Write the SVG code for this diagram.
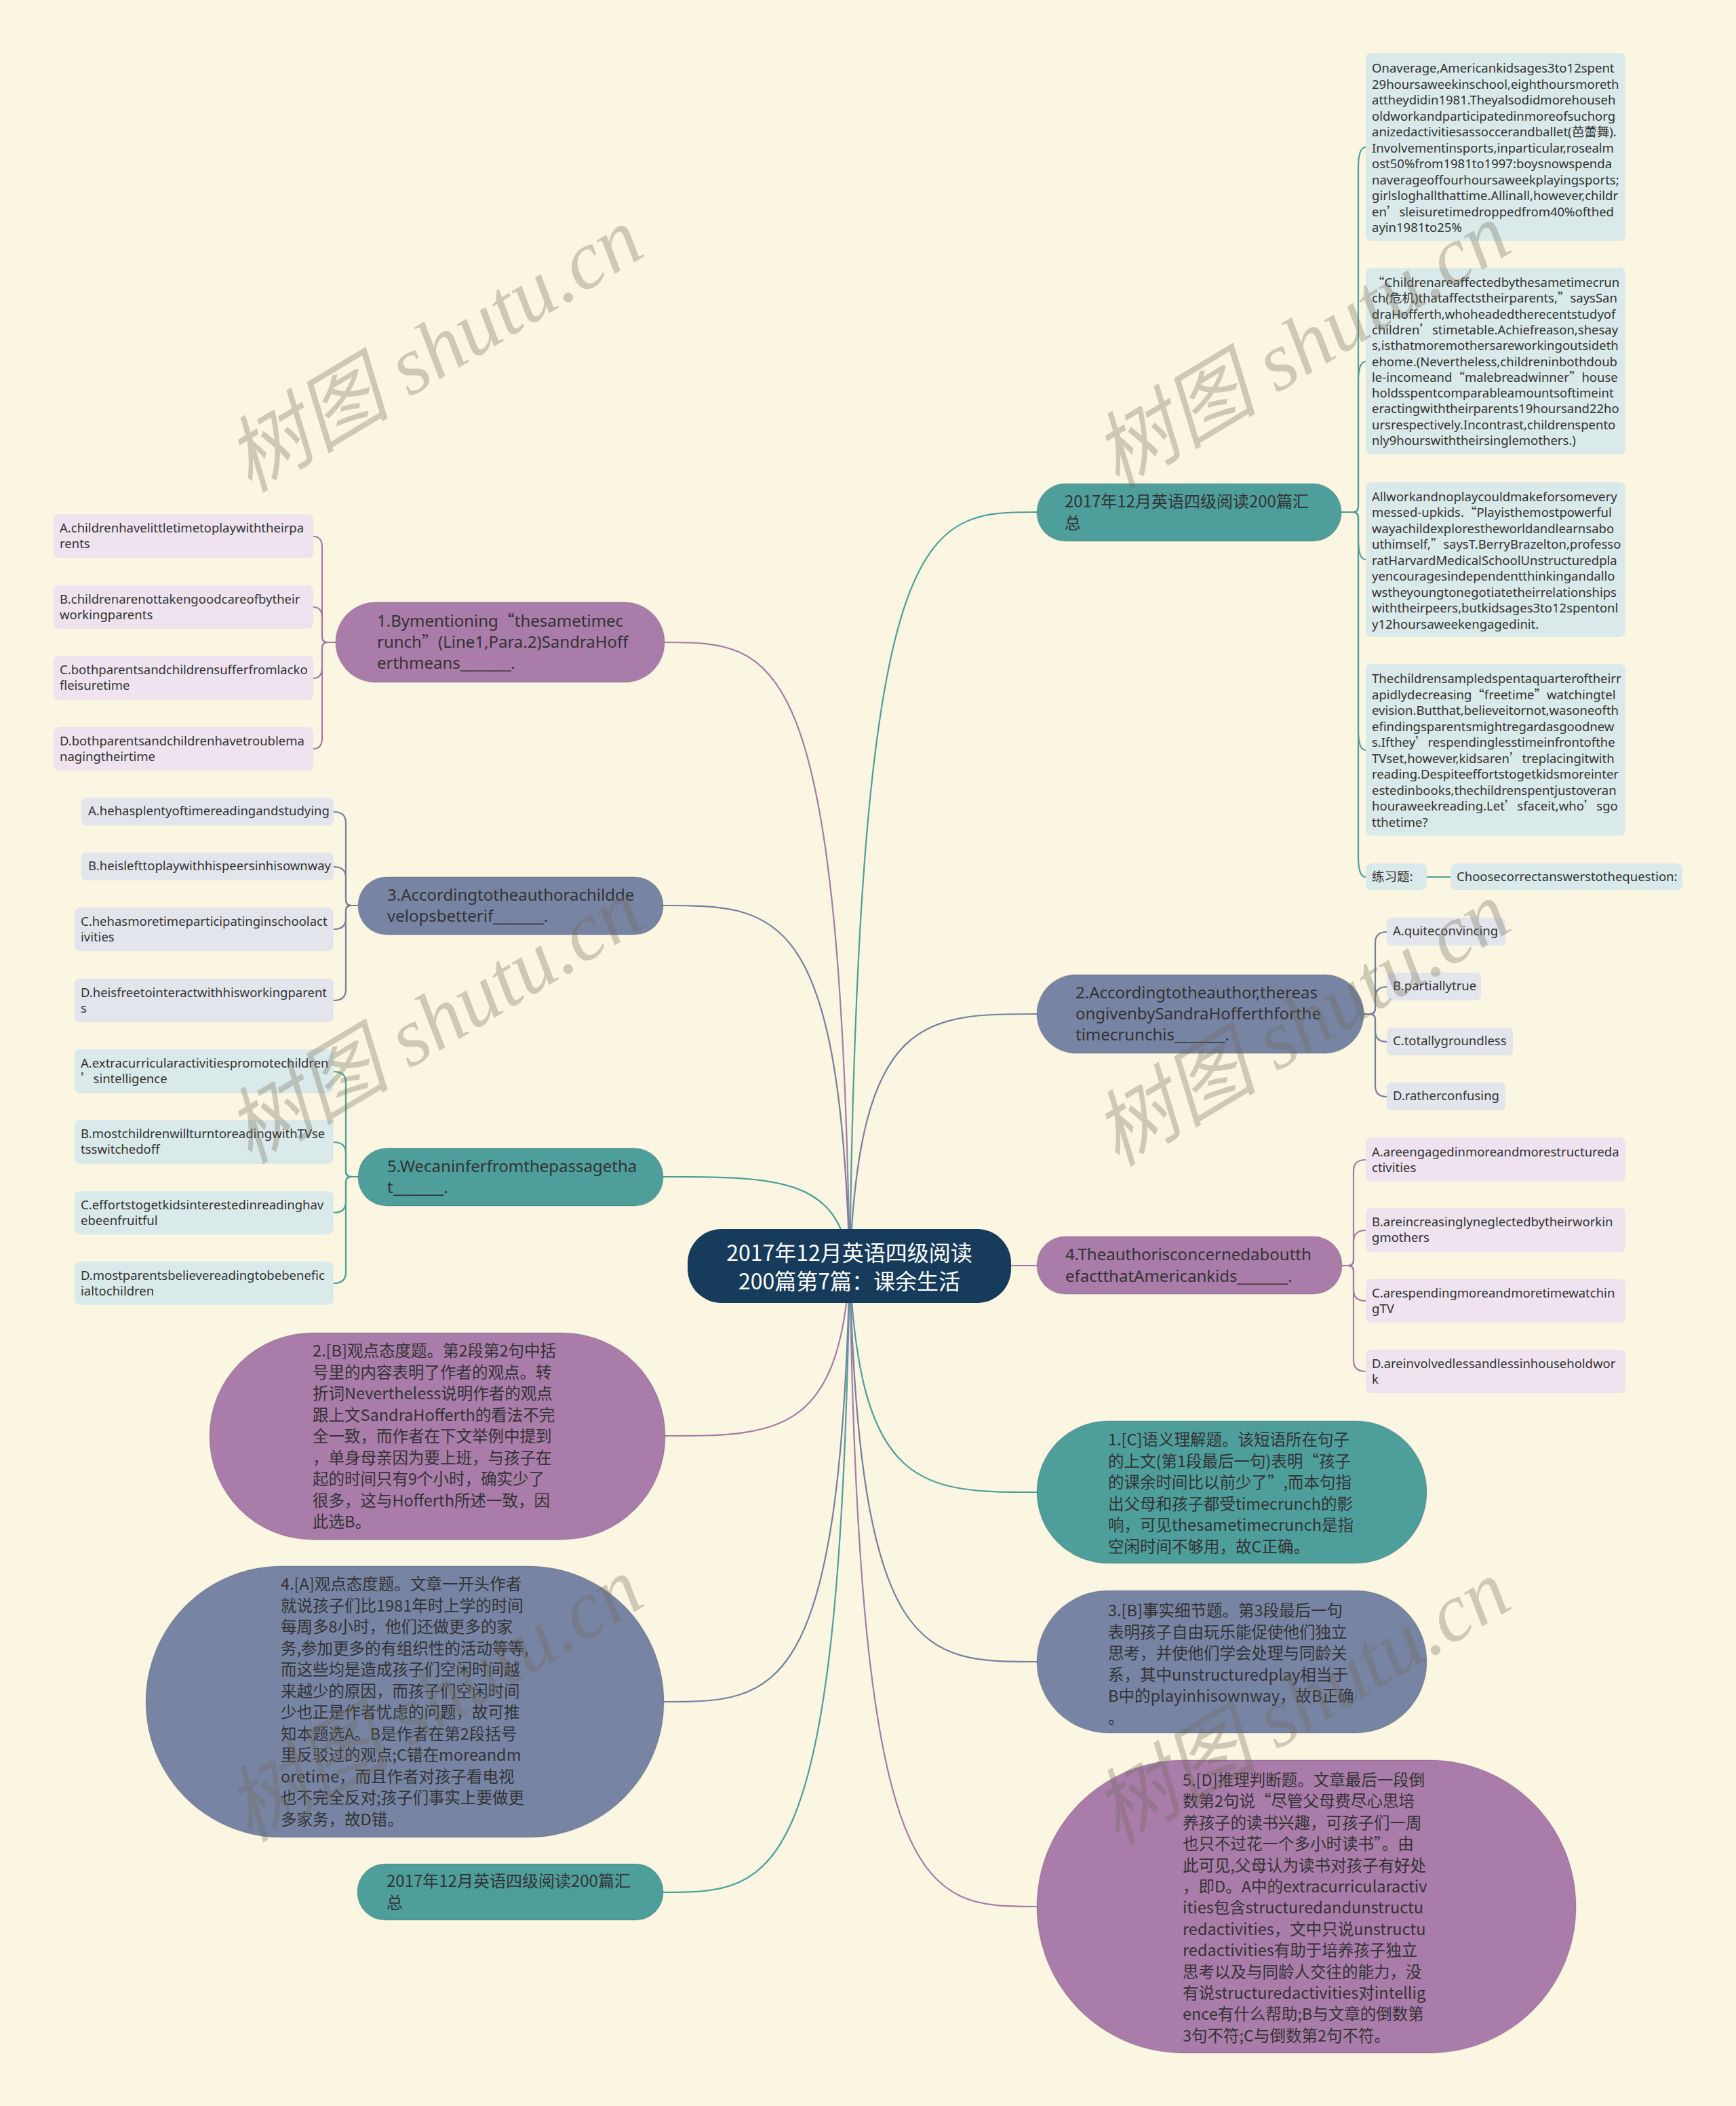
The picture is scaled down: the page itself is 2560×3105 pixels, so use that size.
<svg xmlns="http://www.w3.org/2000/svg" width="2560" height="3105" viewBox="0 0 2560 3105">
<style>
.lk{fill:none;stroke-width:2.2}
.teal{stroke:#4E9E9B}
.pur{stroke:#A57BA8}
.sla{stroke:#7480A0}
.nT{fill:#4E9E9B;stroke:#000;stroke-opacity:.12;stroke-width:1.5}
.nP{fill:#A97CAA;stroke:#000;stroke-opacity:.12;stroke-width:1.5}
.nS{fill:#7884A4;stroke:#000;stroke-opacity:.12;stroke-width:1.5}
.bT{fill:#DAE9E9}
.bP{fill:#EEE3EF}
.bS{fill:#E2E5EC}
.s{font-family:'Noto Sans','Noto Sans CJK SC',sans-serif;font-size:18.5px;fill:#333}
.m{font-family:'Noto Sans','Noto Sans CJK SC',sans-serif;font-size:24px;fill:#333}
.c{font-family:'Noto Sans CJK SC',sans-serif;font-size:23.5px;fill:#333}
.c24{font-family:'Noto Sans CJK SC',sans-serif;font-size:24px;fill:#333}
.q{font-family:'Noto Sans CJK SC',sans-serif}
.ct{font-family:'Noto Sans CJK SC',sans-serif;font-size:32px;fill:#fff;text-anchor:middle}
.wm{font-family:'Liberation Serif','Noto Sans CJK SC',serif;font-style:italic;font-size:122px;fill:#6f6a55;fill-opacity:.32;text-anchor:middle}
</style>
<rect width="2560" height="3105" fill="#FBF6E2"/>

<g id="connectors">
<path class="lk teal" d="M1253,1866 C1267,755 1363,755 1529,755"/>
<path class="lk sla" d="M1253,1866 C1267,1495 1363,1495 1529,1495"/>
<path class="lk pur" d="M1253,1866 L1529,1866"/>
<path class="lk teal" d="M1253,1866 C1267,2200 1363,2200 1529,2200"/>
<path class="lk sla" d="M1253,1866 C1267,2450 1363,2450 1529,2450"/>
<path class="lk pur" d="M1253,1866 C1267,2811 1363,2811 1529,2811"/>
<path class="lk pur" d="M1253,1866 C1239,947 1144,947 980,947"/>
<path class="lk sla" d="M1253,1866 C1239,1335 1144,1335 978,1335"/>
<path class="lk teal" d="M1253,1866 C1239,1735 1144,1735 978,1735"/>
<path class="lk pur" d="M1253,1866 C1239,2117 1144,2117 980,2117"/>
<path class="lk sla" d="M1253,1866 C1239,2509 1144,2509 979,2509"/>
<path class="lk teal" d="M1253,1866 C1239,2790 1144,2790 978,2790"/>

<path class="lk teal" d="M1978,755 L1995,755 Q2003,755 2003,747 L2003,247 Q2003,217 2014,217"/>
<path class="lk teal" d="M1978,755 L1995,755 Q2003,755 2003,747 L2003,563 Q2003,533 2014,533"/>
<path class="lk teal" d="M1978,755 L1995,755 Q2003,755 2003,763 L2003,795 Q2003,825 2014,825"/>
<path class="lk teal" d="M1978,755 L1995,755 Q2003,755 2003,763 L2003,1076 Q2003,1106 2014,1106"/>
<path class="lk teal" d="M1978,755 L1995,755 Q2003,755 2003,763 L2003,1263 Q2003,1293 2014,1293"/>
<path class="lk teal" d="M2104,1293 L2139,1293"/>

<path class="lk sla" d="M2011,1495 L2020,1495 Q2028,1495 2028,1487 L2028,1390 Q2028,1374 2045,1374"/>
<path class="lk sla" d="M2011,1495 L2020,1495 Q2028,1495 2028,1487 L2028,1471 Q2028,1455 2045,1455"/>
<path class="lk sla" d="M2011,1495 L2020,1495 Q2028,1495 2028,1503 L2028,1520 Q2028,1536 2045,1536"/>
<path class="lk sla" d="M2011,1495 L2020,1495 Q2028,1495 2028,1503 L2028,1601 Q2028,1617 2045,1617"/>

<path class="lk pur" d="M1979,1866 L1988,1866 Q1996,1866 1996,1858 L1996,1726 Q1996,1710 2014,1710"/>
<path class="lk pur" d="M1979,1866 L1988,1866 Q1996,1866 1996,1858 L1996,1830 Q1996,1814 2014,1814"/>
<path class="lk pur" d="M1979,1866 L1988,1866 Q1996,1866 1996,1874 L1996,1902 Q1996,1918 2014,1918"/>
<path class="lk pur" d="M1979,1866 L1988,1866 Q1996,1866 1996,1874 L1996,2006 Q1996,2022 2014,2022"/>

<path class="lk pur" d="M495,947 L483,947 Q475,947 475,939 L475,807 Q475,791 462,791"/>
<path class="lk pur" d="M495,947 L483,947 Q475,947 475,939 L475,911 Q475,895 462,895"/>
<path class="lk pur" d="M495,947 L483,947 Q475,947 475,955 L475,984 Q475,1000 462,1000"/>
<path class="lk pur" d="M495,947 L483,947 Q475,947 475,955 L475,1088 Q475,1104 462,1104"/>

<path class="lk sla" d="M528,1335 L518,1335 Q510,1335 510,1327 L510,1213 Q510,1197 492,1197"/>
<path class="lk sla" d="M528,1335 L518,1335 Q510,1335 510,1327 L510,1294 Q510,1278 492,1278"/>
<path class="lk sla" d="M528,1335 L518,1335 Q510,1335 510,1343 L510,1354 Q510,1370 492,1370"/>
<path class="lk sla" d="M528,1335 L518,1335 Q510,1335 510,1343 L510,1459 Q510,1475 492,1475"/>

<path class="lk teal" d="M528,1735 L518,1735 Q510,1735 510,1727 L510,1596 Q510,1580 492,1580"/>
<path class="lk teal" d="M528,1735 L518,1735 Q510,1735 510,1727 L510,1700 Q510,1684 492,1684"/>
<path class="lk teal" d="M528,1735 L518,1735 Q510,1735 510,1743 L510,1772 Q510,1788 492,1788"/>
<path class="lk teal" d="M528,1735 L518,1735 Q510,1735 510,1743 L510,1876 Q510,1892 492,1892"/>
</g>

<g id="center">
<rect x="1014" y="1812" width="477" height="109" rx="50" fill="#173B5A"/>
<text class="ct"><tspan x="1252.5" y="1859">2017年12月英语四级阅读</tspan><tspan x="1252.5" y="1901">200篇第7篇：课余生活</tspan></text>
</g>

<g id="summary-top">
<rect class="nT" x="1529" y="713" width="449" height="85" rx="42"/>
<text class="c24"><tspan x="1570" y="748">2017年12月英语四级阅读200篇汇</tspan><tspan x="1570" y="780">总</tspan></text>
</g>

<g id="para1">
<rect class="bT" x="2014" y="78" width="383" height="277" rx="8"/>
<text class="s">
<tspan x="2023" y="107">Onaverage,Americankidsages3to12spent</tspan>
<tspan x="2023" y="130.5">29hoursaweekinschool,eighthoursmoreth</tspan>
<tspan x="2023" y="154">attheydidin1981.Theyalsodidmorehouseh</tspan>
<tspan x="2023" y="177.5">oldworkandparticipatedinmoreofsuchorg</tspan>
<tspan x="2023" y="201">anizedactivitiesassoccerandballet(芭蕾舞).</tspan>
<tspan x="2023" y="224.5">Involvementinsports,inparticular,rosealm</tspan>
<tspan x="2023" y="248">ost50%from1981to1997:boysnowspenda</tspan>
<tspan x="2023" y="271.5">naverageoffourhoursaweekplayingsports;</tspan>
<tspan x="2023" y="295">girlsloghallthattime.Allinall,however,childr</tspan>
<tspan x="2023" y="318.5">en<tspan class="q">’</tspan>sleisuretimedroppedfrom40%ofthed</tspan>
<tspan x="2023" y="342">ayin1981to25%</tspan>
</text>
</g>

<g id="para2">
<rect class="bT" x="2014" y="395" width="383" height="275" rx="8"/>
<text class="s">
<tspan x="2023" y="423"><tspan class="q">“</tspan>Childrenareaffectedbythesametimecrun</tspan>
<tspan x="2023" y="446.3">ch(危机)thataffectstheirparents,<tspan class="q">”</tspan>saysSan</tspan>
<tspan x="2023" y="469.6">draHofferth,whoheadedtherecentstudyof</tspan>
<tspan x="2023" y="492.9">children<tspan class="q">’</tspan>stimetable.Achiefreason,shesay</tspan>
<tspan x="2023" y="516.2">s,isthatmoremothersareworkingoutsideth</tspan>
<tspan x="2023" y="539.5">ehome.(Nevertheless,childreninbothdoub</tspan>
<tspan x="2023" y="562.8">le-incomeand<tspan class="q">“</tspan>malebreadwinner<tspan class="q">”</tspan>house</tspan>
<tspan x="2023" y="586.1">holdsspentcomparableamountsoftimeint</tspan>
<tspan x="2023" y="609.4">eractingwiththeirparents19hoursand22ho</tspan>
<tspan x="2023" y="632.7">ursrespectively.Incontrast,childrenspento</tspan>
<tspan x="2023" y="656">nly9hourswiththeirsinglemothers.)</tspan>
</text>
</g>

<g id="para3">
<rect class="bT" x="2014" y="711" width="383" height="228" rx="8"/>
<text class="s">
<tspan x="2023" y="738.5">Allworkandnoplaycouldmakeforsomevery</tspan>
<tspan x="2023" y="762">messed-upkids.<tspan class="q">“</tspan>Playisthemostpowerful</tspan>
<tspan x="2023" y="785.5">wayachildexplorestheworldandlearnsabo</tspan>
<tspan x="2023" y="809">uthimself,<tspan class="q">”</tspan>saysT.BerryBrazelton,professo</tspan>
<tspan x="2023" y="832.5">ratHarvardMedicalSchoolUnstructuredpla</tspan>
<tspan x="2023" y="856">yencouragesindependentthinkingandallo</tspan>
<tspan x="2023" y="879.5">wstheyoungtonegotiatetheirrelationships</tspan>
<tspan x="2023" y="903">withtheirpeers,butkidsages3to12spentonl</tspan>
<tspan x="2023" y="926.5">y12hoursaweekengagedinit.</tspan>
</text>
</g>

<g id="para4">
<rect class="bT" x="2014" y="979" width="383" height="253" rx="8"/>
<text class="s">
<tspan x="2023" y="1007">Thechildrensampledspentaquarteroftheirr</tspan>
<tspan x="2023" y="1030.5">apidlydecreasing<tspan class="q">“</tspan>freetime<tspan class="q">”</tspan>watchingtel</tspan>
<tspan x="2023" y="1054">evision.Butthat,believeitornot,wasoneofth</tspan>
<tspan x="2023" y="1077.5">efindingsparentsmightregardasgoodnew</tspan>
<tspan x="2023" y="1101">s.Ifthey<tspan class="q">’</tspan>respendinglesstimeinfrontofthe</tspan>
<tspan x="2023" y="1124.5">TVset,however,kidsaren<tspan class="q">’</tspan>treplacingitwith</tspan>
<tspan x="2023" y="1148">reading.Despiteeffortstogetkidsmoreinter</tspan>
<tspan x="2023" y="1171.5">estedinbooks,thechildrenspentjustoveran</tspan>
<tspan x="2023" y="1195">houraweekreading.Let<tspan class="q">’</tspan>sfaceit,who<tspan class="q">’</tspan>sgo</tspan>
<tspan x="2023" y="1218.5">tthetime?</tspan>
</text>
</g>

<g id="exercise">
<rect class="bT" x="2014" y="1273" width="90" height="39" rx="8"/>
<text class="s" x="2023" y="1299">练习题:</text>
</g>
<g id="exercise-text">
<rect class="bT" x="2139" y="1273" width="342" height="39" rx="8"/>
<text class="s" x="2148" y="1299">Choosecorrectanswerstothequestion:</text>
</g>

<g id="q2">
<rect class="nS" x="1529" y="1437" width="482" height="116" rx="58"/>
<text class="m"><tspan x="1586" y="1472">2.Accordingtotheauthor,thereas</tspan><tspan x="1586" y="1503">ongivenbySandraHofferthforthe</tspan><tspan x="1586" y="1534">timecrunchis_______.</tspan></text>
</g>
<g id="q2a"><rect class="bS" x="2045" y="1353" width="175" height="41" rx="7"/><text class="s" x="2054" y="1379">A.quiteconvincing</text></g>
<g id="q2b"><rect class="bS" x="2045" y="1434" width="139" height="41" rx="7"/><text class="s" x="2054" y="1460">B.partiallytrue</text></g>
<g id="q2c"><rect class="bS" x="2045" y="1515" width="186" height="41" rx="7"/><text class="s" x="2054" y="1541">C.totallygroundless</text></g>
<g id="q2d"><rect class="bS" x="2045" y="1596" width="175" height="41" rx="7"/><text class="s" x="2054" y="1622">D.ratherconfusing</text></g>

<g id="q4">
<rect class="nP" x="1529" y="1823" width="450" height="85" rx="42"/>
<text class="m"><tspan x="1571" y="1858">4.Theauthorisconcernedaboutth</tspan><tspan x="1571" y="1890">efactthatAmericankids_______.</tspan></text>
</g>
<g id="q4a"><rect class="bP" x="2014" y="1677" width="383" height="65" rx="8"/><text class="s"><tspan x="2023" y="1705">A.areengagedinmoreandmorestructureda</tspan><tspan x="2023" y="1728">ctivities</tspan></text></g>
<g id="q4b"><rect class="bP" x="2014" y="1781" width="383" height="65" rx="8"/><text class="s"><tspan x="2023" y="1808">B.areincreasinglyneglectedbytheirworkin</tspan><tspan x="2023" y="1831">gmothers</tspan></text></g>
<g id="q4c"><rect class="bP" x="2014" y="1886" width="383" height="64" rx="8"/><text class="s"><tspan x="2023" y="1913">C.arespendingmoreandmoretimewatchin</tspan><tspan x="2023" y="1936">gTV</tspan></text></g>
<g id="q4d"><rect class="bP" x="2014" y="1990" width="383" height="64" rx="8"/><text class="s"><tspan x="2023" y="2017">D.areinvolvedlessandlessinhouseholdwor</tspan><tspan x="2023" y="2040">k</tspan></text></g>

<g id="q1">
<rect class="nP" x="495" y="888" width="485" height="118" rx="59"/>
<text class="m"><tspan x="556" y="924">1.Bymentioning<tspan class="q">“</tspan>thesametimec</tspan><tspan x="556" y="955">runch<tspan class="q">”</tspan>(Line1,Para.2)SandraHoff</tspan><tspan x="556" y="986">erthmeans_______.</tspan></text>
</g>
<g id="q1a"><rect class="bP" x="79" y="758" width="383" height="65" rx="8"/><text class="s"><tspan x="88" y="785">A.childrenhavelittletimetoplaywiththeirpa</tspan><tspan x="88" y="808">rents</tspan></text></g>
<g id="q1b"><rect class="bP" x="79" y="863" width="383" height="64" rx="8"/><text class="s"><tspan x="88" y="890">B.childrenarenottakengoodcareofbytheir</tspan><tspan x="88" y="913">workingparents</tspan></text></g>
<g id="q1c"><rect class="bP" x="79" y="967" width="383" height="65" rx="8"/><text class="s"><tspan x="88" y="994">C.bothparentsandchildrensufferfromlacko</tspan><tspan x="88" y="1017">fleisuretime</tspan></text></g>
<g id="q1d"><rect class="bP" x="79" y="1072" width="383" height="64" rx="8"/><text class="s"><tspan x="88" y="1099">D.bothparentsandchildrenhavetroublema</tspan><tspan x="88" y="1122">nagingtheirtime</tspan></text></g>

<g id="q3">
<rect class="nS" x="528" y="1293" width="450" height="85" rx="42"/>
<text class="m"><tspan x="571" y="1328">3.Accordingtotheauthorachildde</tspan><tspan x="571" y="1359">velopsbetterif_______.</tspan></text>
</g>
<g id="q3a"><rect class="bS" x="120" y="1176" width="372" height="41" rx="7"/><text class="s" x="130" y="1202">A.hehasplentyoftimereadingandstudying</text></g>
<g id="q3b"><rect class="bS" x="120" y="1257" width="372" height="41" rx="7"/><text class="s" x="130" y="1283">B.heislefttoplaywithhispeersinhisownway</text></g>
<g id="q3c"><rect class="bS" x="110" y="1338" width="382" height="64" rx="8"/><text class="s"><tspan x="119" y="1365">C.hehasmoretimeparticipatinginschoolact</tspan><tspan x="119" y="1388">ivities</tspan></text></g>
<g id="q3d"><rect class="bS" x="110" y="1443" width="382" height="64" rx="8"/><text class="s"><tspan x="119" y="1470">D.heisfreetointeractwithhisworkingparent</tspan><tspan x="119" y="1493">s</tspan></text></g>

<g id="q5">
<rect class="nT" x="528" y="1693" width="450" height="85" rx="42"/>
<text class="m"><tspan x="571" y="1728">5.Wecaninferfromthepassagetha</tspan><tspan x="571" y="1759">t_______.</tspan></text>
</g>
<g id="q5a"><rect class="bT" x="110" y="1547" width="382" height="65" rx="8"/><text class="s"><tspan x="119" y="1574">A.extracurricularactivitiespromotechildren</tspan><tspan x="119" y="1597"><tspan class="q">’</tspan>sintelligence</tspan></text></g>
<g id="q5b"><rect class="bT" x="110" y="1651" width="382" height="65" rx="8"/><text class="s"><tspan x="119" y="1678">B.mostchildrenwillturntoreadingwithTVse</tspan><tspan x="119" y="1701">tsswitchedoff</tspan></text></g>
<g id="q5c"><rect class="bT" x="110" y="1756" width="382" height="64" rx="8"/><text class="s"><tspan x="119" y="1783">C.effortstogetkidsinterestedinreadinghav</tspan><tspan x="119" y="1806">ebeenfruitful</tspan></text></g>
<g id="q5d"><rect class="bT" x="110" y="1860" width="382" height="64" rx="8"/><text class="s"><tspan x="119" y="1887">D.mostparentsbelievereadingtobebenefic</tspan><tspan x="119" y="1910">ialtochildren</tspan></text></g>

<g id="answer2">
<rect class="nP" x="309" y="1965" width="672" height="305" rx="152"/>
<text class="c">
<tspan x="461" y="2000">2.[B]观点态度题。第2段第2句中括</tspan>
<tspan x="461" y="2031.5">号里的内容表明了作者的观点。转</tspan>
<tspan x="461" y="2063">折词Nevertheless说明作者的观点</tspan>
<tspan x="461" y="2094.5">跟上文SandraHofferth的看法不完</tspan>
<tspan x="461" y="2126">全一致，而作者在下文举例中提到</tspan>
<tspan x="461" y="2157.5">，单身母亲因为要上班，与孩子在</tspan>
<tspan x="461" y="2189">起的时间只有9个小时，确实少了</tspan>
<tspan x="461" y="2220.5">很多，这与Hofferth所述一致，因</tspan>
<tspan x="461" y="2252">此选B。</tspan>
</text>
</g>

<g id="answer4">
<rect class="nS" x="215" y="2309" width="764" height="400" rx="200"/>
<text class="c">
<tspan x="414" y="2344">4.[A]观点态度题。文章一开头作者</tspan>
<tspan x="414" y="2375.5">就说孩子们比1981年时上学的时间</tspan>
<tspan x="414" y="2407">每周多8小时，他们还做更多的家</tspan>
<tspan x="414" y="2438.5">务,参加更多的有组织性的活动等等,</tspan>
<tspan x="414" y="2470">而这些均是造成孩子们空闲时间越</tspan>
<tspan x="414" y="2501.5">来越少的原因，而孩子们空闲时间</tspan>
<tspan x="414" y="2533">少也正是作者忧虑的问题，故可推</tspan>
<tspan x="414" y="2564.5">知本题选A。B是作者在第2段括号</tspan>
<tspan x="414" y="2596">里反驳过的观点;C错在moreandm</tspan>
<tspan x="414" y="2627.5">oretime，而且作者对孩子看电视</tspan>
<tspan x="414" y="2659">也不完全反对;孩子们事实上要做更</tspan>
<tspan x="414" y="2690.5">多家务，故D错。</tspan>
</text>
</g>

<g id="summary-bottom">
<rect class="nT" x="527" y="2748" width="451" height="83" rx="41"/>
<text class="c24"><tspan x="570" y="2782">2017年12月英语四级阅读200篇汇</tspan><tspan x="570" y="2814">总</tspan></text>
</g>

<g id="answer1">
<rect class="nT" x="1529" y="2095" width="575" height="210" rx="105"/>
<text class="c">
<tspan x="1634" y="2131">1.[C]语义理解题。该短语所在句子</tspan>
<tspan x="1634" y="2162.5">的上文(第1段最后一句)表明“孩子</tspan>
<tspan x="1634" y="2194">的课余时间比以前少了”,而本句指</tspan>
<tspan x="1634" y="2225.5">出父母和孩子都受timecrunch的影</tspan>
<tspan x="1634" y="2257">响，可见thesametimecrunch是指</tspan>
<tspan x="1634" y="2288.5">空闲时间不够用，故C正确。</tspan>
</text>
</g>

<g id="answer3">
<rect class="nS" x="1529" y="2345" width="575" height="210" rx="105"/>
<text class="c">
<tspan x="1634" y="2383">3.[B]事实细节题。第3段最后一句</tspan>
<tspan x="1634" y="2414.5">表明孩子自由玩乐能促使他们独立</tspan>
<tspan x="1634" y="2446">思考，并使他们学会处理与同龄关</tspan>
<tspan x="1634" y="2477.5">系，其中unstructuredplay相当于</tspan>
<tspan x="1634" y="2509">B中的playinhisownway，故B正确</tspan>
<tspan x="1634" y="2540.5">。</tspan>
</text>
</g>

<g id="answer5">
<rect class="nP" x="1529" y="2595" width="795" height="432" rx="216"/>
<text class="c">
<tspan x="1744" y="2633">5.[D]推理判断题。文章最后一段倒</tspan>
<tspan x="1744" y="2664.4">数第2句说“尽管父母费尽心思培</tspan>
<tspan x="1744" y="2695.8">养孩子的读书兴趣，可孩子们一周</tspan>
<tspan x="1744" y="2727.2">也只不过花一个多小时读书”。由</tspan>
<tspan x="1744" y="2758.6">此可见,父母认为读书对孩子有好处</tspan>
<tspan x="1744" y="2790">，即D。A中的extracurricularactiv</tspan>
<tspan x="1744" y="2821.4">ities包含structuredandunstructu</tspan>
<tspan x="1744" y="2852.8">redactivities，文中只说unstructu</tspan>
<tspan x="1744" y="2884.2">redactivities有助于培养孩子独立</tspan>
<tspan x="1744" y="2915.6">思考以及与同龄人交往的能力，没</tspan>
<tspan x="1744" y="2947">有说structuredactivities对intellig</tspan>
<tspan x="1744" y="2978.4">ence有什么帮助;B与文章的倒数第</tspan>
<tspan x="1744" y="3009.8">3句不符;C与倒数第2句不符。</tspan>
</text>
</g>

<g id="watermarks">
<text class="wm" x="640" y="557" transform="rotate(-31 640 515)">树图 shutu.cn</text>
<text class="wm" x="1919" y="551" transform="rotate(-31 1919 509)">树图 shutu.cn</text>
<text class="wm" x="640" y="1547" transform="rotate(-31 640 1505)">树图 shutu.cn</text>
<text class="wm" x="1919" y="1551" transform="rotate(-31 1919 1509)">树图 shutu.cn</text>
<text class="wm" x="640" y="2547" transform="rotate(-31 640 2505)">树图 shutu.cn</text>
<text class="wm" x="1919" y="2551" transform="rotate(-31 1919 2509)">树图 shutu.cn</text>
</g>
</svg>
